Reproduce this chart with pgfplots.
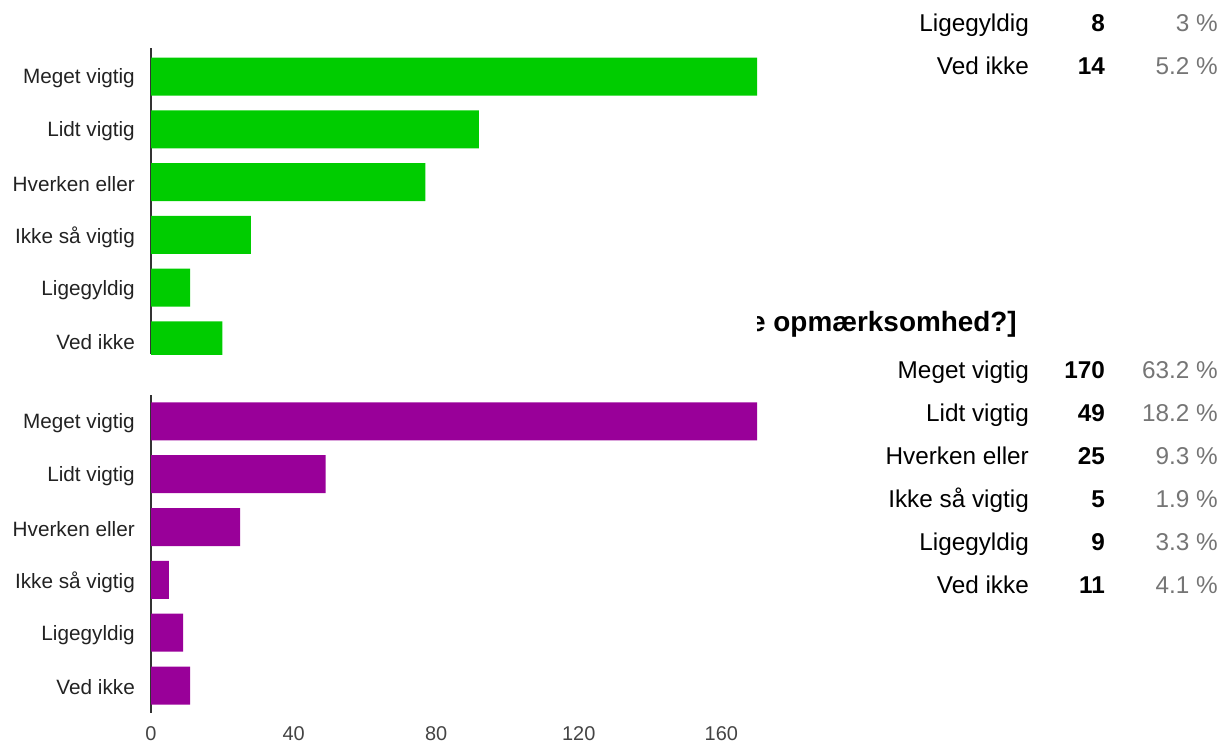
\documentclass[border=0pt]{standalone}
\usepackage{pgfplots}
\pgfplotsset{compat=1.18}
\usepackage{fontspec}
\setmainfont{Liberation Sans}

\definecolor{bargreen}{RGB}{0,204,0}
\definecolor{barpurple}{RGB}{153,0,153}
\definecolor{axisdark}{RGB}{51,51,51}
\definecolor{labeldark}{RGB}{34,34,34}
\definecolor{ticklabel}{RGB}{68,68,68}
\definecolor{pctgray}{RGB}{117,117,117}

% common look of the two answer charts
\pgfplotsset{
  answerbars/.style={
    xbar, scale only axis, width=606bp,
    xmin=0, xmax=170,
    y dir=reverse,
    ytick={0,...,5},
    yticklabels={Meget vigtig, Lidt vigtig, Hverken eller, Ikke så vigtig, Ligegyldig, Ved ikke},
    axis y line*=left, axis x line*=bottom,
    y axis line style={draw=axisdark, line width=1.5bp, -},
    x axis line style={draw=none},
    major tick length=0pt,
    yticklabel style={font=\fontsize{20.8}{24}\selectfont, text=labeldark, inner sep=0pt, xshift=-16bp, yshift=-2bp},
    bar width=38bp,
  }
}

% one row of a summary table: answer, count, share
\newcommand{\tablerow}[4]{%
  \node[anchor=base east, inner sep=0pt, font=\fontsize{24.4}{28}\selectfont] at (1029bp,-#1bp) {#2};
  \node[anchor=base east, inner sep=0pt, font=\fontsize{24.4}{28}\selectfont\bfseries] at (1105bp,-#1bp) {#3};
  \node[anchor=base east, inner sep=0pt, font=\fontsize{24.4}{28}\selectfont, text=pctgray] at (1218bp,-#1bp) {#4};
}

\begin{document}
\begin{tikzpicture}
\useasboundingbox (0,0) rectangle (1221bp,-742bp);

% tail of the table above
\tablerow{31}{Ligegyldig}{8}{3 \%}
\tablerow{74}{Ved ikke}{14}{5.2 \%}

% question heading, partly covered by the chart
\begin{scope}
  \clip (757bp,-290bp) rectangle (1221bp,-350bp);
  \node[anchor=base west, inner sep=0pt, font=\fontsize{28}{32}\selectfont\bfseries] at (750bp,-331bp) {e opmærksomhed?]};
\end{scope}

\tablerow{378}{Meget vigtig}{170}{63.2 \%}
\tablerow{421}{Lidt vigtig}{49}{18.2 \%}
\tablerow{464}{Hverken eller}{25}{9.3 \%}
\tablerow{507}{Ikke så vigtig}{5}{1.9 \%}
\tablerow{550}{Ligegyldig}{9}{3.3 \%}
\tablerow{593}{Ved ikke}{11}{4.1 \%}

% upper chart (cut off at its lower edge)
\begin{axis}[answerbars,
  at={(151bp,-48bp)}, anchor=north west,
  height=306bp, ymin=-0.54, ymax=5.256,
  xtick=\empty]
\addplot[fill=bargreen, draw=none] coordinates {(170,0) (92,1) (77,2) (28,3) (11,4) (20,5)};
\end{axis}

% lower chart
\begin{axis}[answerbars,
  at={(151bp,-395bp)}, anchor=north west,
  height=318bp, ymin=-0.5, ymax=5.52,
  xtick={0,40,80,120,160},
  /pgf/number format/assume math mode=true,
  xticklabel style={font=\fontsize{20}{24}\selectfont, text=ticklabel, inner sep=0pt, yshift=-13bp}]
\addplot[fill=barpurple, draw=none] coordinates {(170,0) (49,1) (25,2) (5,3) (9,4) (11,5)};
\end{axis}
\end{tikzpicture}
\end{document}
